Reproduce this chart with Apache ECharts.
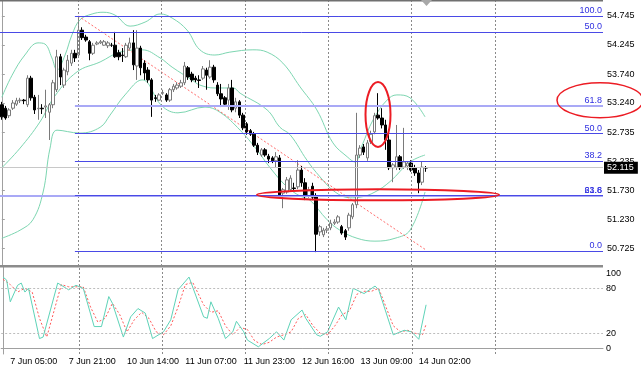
<!DOCTYPE html>
<html><head><meta charset="utf-8">
<script src="https://cdn.jsdelivr.net/npm/echarts@6/dist/echarts.min.js"></script>
<style>html,body{margin:0;padding:0;background:#fff}#c{width:641px;height:369px}</style>
</head><body><div id="c"></div>
<script>
// ---------- data ----------
const timeLabels = ['7 Jun 05:00','7 Jun 21:00','10 Jun 14:00','11 Jun 07:00','11 Jun 23:00','12 Jun 16:00','13 Jun 09:00','14 Jun 02:00'];
const timeLabelBars = [2,18,34,50,66,82,98,114];
const slotCount = 165;
// [open, close, low, high]
const candles = [
[53.21,53.00,52.95,53.26],[53.15,52.98,52.95,53.19],[53.02,53.12,52.98,53.15],[53.15,53.24,53.12,53.29],[53.22,53.28,53.19,53.33],
[53.28,53.29,53.24,53.33],[53.29,53.28,53.22,53.31],[53.21,53.67,53.17,53.72],[53.67,53.33,53.28,53.71],[53.34,53.12,53.05,53.38],
[53.14,53.15,52.95,53.38],[53.15,53.14,53.05,53.22],[53.17,53.19,52.98,53.47],[53.08,53.21,52.60,53.24],[53.21,53.59,53.15,53.64],
[53.47,54.04,53.43,54.16],[54.04,53.69,53.55,54.09],[53.55,53.81,53.50,53.85],[53.78,53.98,53.72,54.07],[53.93,54.10,53.88,54.16],
[54.10,54.02,53.95,54.16],[54.07,54.50,54.02,54.745],[54.50,54.37,54.33,54.55],[54.38,54.33,54.30,54.42],[54.30,54.10,53.98,54.33],
[54.10,54.24,54.07,54.28],[54.26,54.28,54.24,54.31],[54.28,54.30,54.26,54.33],[54.24,54.30,54.23,54.33],[54.23,54.28,54.19,54.31],
[54.24,54.24,54.21,54.28],[54.24,54.04,54.02,54.47],[54.11,54.04,53.98,54.16],[54.07,54.06,53.95,54.19],[54.04,54.24,54.02,54.28],
[54.19,54.28,54.16,54.37],[54.28,53.90,53.81,54.50],[53.88,54.19,53.64,54.50],[54.19,53.85,53.72,54.23],[53.93,53.76,53.64,53.98],
[53.81,53.64,53.59,53.86],[53.64,53.29,53.00,53.67],[53.33,53.32,53.26,53.38],[53.29,53.38,53.28,53.41],[53.41,53.42,53.38,53.47],
[53.38,53.29,53.26,53.41],[53.29,53.47,53.26,53.50],[53.47,53.53,53.43,53.57],[53.50,53.55,53.47,53.60],[53.53,53.59,53.50,53.64],
[53.59,53.88,53.55,53.95],[53.85,53.69,53.64,53.88],[53.74,53.64,53.60,53.78],[53.67,53.64,53.60,53.71],[53.64,53.63,53.50,53.72],
[53.67,53.83,53.64,53.88],[53.81,53.72,53.47,53.85],[53.69,53.86,53.66,53.98],[53.86,53.64,53.59,53.90],[53.55,53.40,53.36,53.60],
[53.40,53.31,53.17,53.57],[53.33,53.22,53.19,53.36],[53.29,53.50,53.12,53.57],[53.50,53.12,53.08,53.64],[53.15,53.26,53.08,53.33],
[53.26,53.03,52.98,53.29],[53.03,52.81,52.77,53.07],[52.88,52.74,52.69,52.91],[52.76,52.70,52.67,52.79],[52.70,52.51,52.48,52.74],
[52.51,52.39,52.34,52.55],[52.34,52.43,52.31,52.46],[52.43,52.34,52.31,52.46],[52.32,52.27,52.20,52.36],[52.29,52.24,52.20,52.32],
[52.24,52.31,52.12,52.39],[52.29,51.65,51.61,52.34],[51.68,51.74,51.42,51.77],[51.70,51.91,51.67,51.96],[51.74,51.94,51.70,51.99],
[51.77,51.76,51.72,51.86],[51.79,52.08,51.75,52.25],[52.08,51.86,51.79,52.15],[51.86,51.63,51.56,51.94],[51.63,51.74,51.60,51.79],
[51.80,51.61,51.56,51.86],[51.63,50.97,50.66,51.68],[51.01,51.10,50.94,51.13],[50.96,51.04,50.92,51.08],[51.04,51.06,50.99,51.11],
[51.08,51.16,51.04,51.22],[51.16,51.18,51.13,51.23],[51.18,51.27,51.15,51.30],[51.10,50.99,50.96,51.13],[51.03,50.92,50.87,51.06],
[51.08,51.30,51.03,51.34],[51.27,51.48,51.23,51.51],[51.48,52.34,51.42,53.07],[52.34,52.46,52.29,52.51],[52.48,52.39,52.34,52.53],
[52.29,52.55,52.24,52.60],[52.57,52.70,52.53,52.76],[52.74,53.02,52.70,53.07],[53.03,52.98,52.95,53.41],[52.98,52.86,52.80,53.15],
[52.86,52.60,52.43,52.95],[52.60,52.12,52.08,52.77],[52.12,52.17,51.87,52.20],[52.13,52.31,52.08,52.86],[52.31,52.12,52.08,52.34],
[52.13,52.22,52.10,52.81],[52.15,52.20,52.08,52.22],[52.20,52.08,52.05,52.25],[52.12,52.03,51.98,52.17],[52.03,51.86,51.68,52.08],
[51.87,52.13,51.82,52.22],[52.12,52.115,52.05,52.15]
];
// Bollinger bands, [bar, price]
const bbUpper = [[0,53.34],[2.8,53.72],[6.3,54.07],[9.9,54.28],[11.8,54.26],[13.7,54.02],[15.1,53.81],[17.3,54.07],[19.2,54.42],[21.4,54.68],[24.7,54.78],[27.7,54.81],[31,54.76],[35.1,54.57],[39.2,54.64],[43.3,54.78],[46.6,54.71],[50.7,54.50],[54.2,54.16],[58.3,54.07],[62.4,54.12],[68.7,54.16],[72.6,54.12],[76.9,53.93],[81.6,53.52],[86.2,53.12],[90.6,52.55],[94.5,52.31],[96.6,52.22],[98.6,52.51],[101.6,52.95],[105.4,53.29],[108.1,53.38],[111.7,53.33],[115.8,53.00]];
const bbMiddle = [[0,52.12],[5,52.46],[10.4,52.91],[14.5,53.36],[20.6,53.78],[26.9,53.95],[32.3,54.12],[38.4,54.16],[43.3,54.02],[46.6,53.86],[52,53.64],[54.2,53.55],[58.3,53.50],[63.3,53.50],[65.2,53.41],[72.6,53.12],[76.1,52.82],[78.9,52.69],[83.5,52.25],[87.1,51.96],[91.2,51.70],[95.3,51.60],[98,51.61],[102.1,51.70],[106.2,51.88],[111.7,52.22],[115.8,52.34]];
const bbLower = [[0,50.90],[5,51.04],[8.5,51.22],[11.3,51.70],[13.2,52.46],[15.1,52.77],[21.4,52.72],[26.9,52.82],[29.6,53.03],[33.7,53.38],[38.4,53.64],[43.8,53.19],[48.2,53.07],[55.6,53.17],[59.7,53.08],[65.2,52.77],[69.8,52.43],[73.4,52.12],[78,51.79],[81.6,51.63],[84.3,51.56],[89,51.22],[92.5,51.04],[97.2,50.90],[102.1,50.85],[107.6,50.90],[111.7,51.04],[115.8,51.70]];
// Stochastic %K and signal, [bar, value]
const stochMain = [[0,95],[1,91],[2,62],[4,84],[5,87],[6,75],[7,80],[10,13],[11,15],[15,87],[18,78],[20,84],[22,80],[25,29],[27,29],[29,69],[30,60],[33,15],[35,42],[37,53],[39,47],[41,13],[44,22],[46,38],[48,78],[51,95],[55,42],[56,40],[57,62],[59,40],[61,13],[63,22],[64,36],[66,22],[67,11],[70,2],[73,13],[75,22],[77,11],[79,38],[82,51],[83,40],[86,18],[87,16],[89,22],[92,55],[94,38],[96,80],[99,73],[102,83],[103,78],[107,18],[110,24],[112,22],[114,12],[116,58]];
const stochSignal = [[0,92],[2,85],[4,75],[6,80],[8,75],[10,40],[12,15],[14,50],[16,85],[18,82],[20,82],[22,82],[24,55],[26,35],[28,40],[30,60],[32,45],[34,22],[36,38],[38,48],[40,40],[42,22],[44,18],[46,30],[48,55],[50,85],[52,88],[55,58],[57,48],[59,50],[61,30],[63,18],[65,28],[67,25],[69,10],[71,5],[73,8],[75,15],[77,18],[79,22],[81,40],[83,45],[85,30],[87,20],[89,18],[91,30],[93,45],[95,50],[97,72],[99,76],[101,76],[103,80],[105,55],[107,30],[109,22],[111,24],[113,20],[115,18],[116,32]];
const priceTicks = [54.745,54.245,53.740,53.240,52.735,52.235,51.730,51.230,50.725];
const stochTicks = [0,20,80,100];
const stochLevels = [20,80];
// Fibonacci levels [label, price]
const fibMain = [['100.0',54.745],['61.8',53.190],['50.0',52.710],['38.2',52.229],['23.6',51.636],['0.0',50.675]];
const fibSecond = [['50.0',54.469],['61.8',51.630]];
const trendLine = [[20.9,54.745],[116,50.70]];

// ---------- styles / layout ----------
const fibMainStart = 20, fibSecondStart = -0.5, rightEdge = 164.5;
const vGrid = [20.84,43.69,66.54,89.25,112.15,134.95];
const FONT = 'Liberation Sans, Arial, sans-serif';
const blue = '#4a4ae6', lightBlue = '#a9a9f6', bbColor = '#7dd6b1', red = '#ec1c24';

const cats = [];
for (let i = 0; i < slotCount; i++) {
  const k = timeLabelBars.indexOf(i);
  cats.push(k >= 0 ? timeLabels[k] : '');
}
const lastClose = candles[candles.length - 1][1];

function fibPairs(list, start, special) {
  return list.map(([lab, p]) => {
    const light = lab === '61.8';
    return [{
      coord: [start, p],
      lineStyle: { color: light ? lightBlue : blue, width: light ? 2 : 1, type: 'solid' },
      label: { show: true, position: 'insideEndTop', formatter: lab, color: '#2f2fe0', fontSize: 9, fontFamily: FONT, distance: 1 }
    }, { coord: [rightEdge, p] }];
  });
}

const chart = echarts.init(document.getElementById('c'), null, { renderer: 'canvas' });
chart.setOption({
  animation: false,
  backgroundColor: '#fff',
  textStyle: { fontFamily: FONT },
  grid: [
    { left: 0, top: 0, width: 603, height: 266 },
    { left: 0, top: 267, width: 603, height: 87 }
  ],
  xAxis: [
    { type: 'category', gridIndex: 0, data: cats, boundaryGap: true, axisLine: { show: false }, axisTick: { show: false }, axisLabel: { show: false }, splitLine: { show: false } },
    { type: 'category', gridIndex: 1, data: cats, boundaryGap: true,
      axisLine: { show: true, lineStyle: { color: '#a0a0a0' } }, axisTick: { show: false },
      axisLabel: { show: true, interval: 0, align: 'left', margin: 3, fontSize: 9, color: '#000', fontFamily: FONT }, splitLine: { show: false } },
    { type: 'value', gridIndex: 0, min: -0.5, max: rightEdge, show: false },
    { type: 'value', gridIndex: 1, min: -0.5, max: rightEdge, show: false }
  ],
  yAxis: [
    { type: 'value', gridIndex: 0, position: 'right', min: 50.420, max: 55.022, scale: true,
      axisLine: { show: true, lineStyle: { color: '#a0a0a0' } },
      axisTick: { show: true, length: 3, customValues: priceTicks, lineStyle: { color: '#a0a0a0' } },
      axisLabel: { show: true, customValues: priceTicks, formatter: v => v.toFixed(3), fontSize: 9, color: '#000', margin: 4, fontFamily: FONT },
      splitLine: { show: false } },
    { type: 'value', gridIndex: 1, position: 'right', min: -7.6, max: 108.4,
      axisLine: { show: true, lineStyle: { color: '#a0a0a0' } },
      axisTick: { show: false },
      axisLabel: { show: true, customValues: stochTicks, formatter: v => String(v), fontSize: 9, color: '#000', margin: 3, fontFamily: FONT },
      splitLine: { show: false } }
  ],
  series: [
    { type: 'line', name: 'bbU', xAxisIndex: 2, yAxisIndex: 0, data: bbUpper, smooth: 0.4, showSymbol: false, lineStyle: { color: bbColor, width: 1 }, z: 2 },
    { type: 'line', name: 'bbM', xAxisIndex: 2, yAxisIndex: 0, data: bbMiddle, smooth: 0.4, showSymbol: false, lineStyle: { color: bbColor, width: 1 }, z: 2 },
    { type: 'line', name: 'bbL', xAxisIndex: 2, yAxisIndex: 0, data: bbLower, smooth: 0.4, showSymbol: false, lineStyle: { color: bbColor, width: 1 }, z: 2 },
    { type: 'line', name: 'trend', xAxisIndex: 2, yAxisIndex: 0, data: trendLine, showSymbol: false,
      lineStyle: { color: '#ff6b6b', width: 1, type: [2, 2] }, z: 3,
      markLine: { silent: true, symbol: ['none', 'none'], animation: false,
        data: [
          ...vGrid.map(v => ({ xAxis: v, lineStyle: { color: '#8a8a8a', type: [2, 2], width: 1 }, label: { show: false } })),
          ...fibPairs(fibSecond, fibSecondStart),
          ...fibPairs(fibMain, fibMainStart)
        ] } },
    { type: 'candlestick', name: 'price', xAxisIndex: 0, yAxisIndex: 0, data: candles, barWidth: 3, z: 4,
      itemStyle: { color: '#ffffff', color0: '#000000', borderColor: '#7a7a7a', borderColor0: '#000000', borderWidth: 1 },
      markLine: { silent: true, symbol: ['none', 'none'],
        data: [{ yAxis: lastClose, lineStyle: { color: '#c8c8c8', width: 1, type: 'solid' },
          label: { show: true, position: 'end', distance: 1, formatter: lastClose.toFixed(3), color: '#fff', backgroundColor: '#000', padding: [2, 4, 1, 3], fontSize: 9, fontFamily: FONT } }] } },
    { type: 'line', name: 'stochK', xAxisIndex: 3, yAxisIndex: 1, data: stochMain, showSymbol: false, lineStyle: { color: '#5ed3b8', width: 1 }, z: 3,
      markLine: { silent: true, symbol: ['none', 'none'],
        data: [
          ...stochLevels.map(v => ({ yAxis: v, lineStyle: { color: '#bdbdbd', type: [2, 2], width: 1 }, label: { show: false } })),
          ...vGrid.map(v => ({ xAxis: v, lineStyle: { color: '#8a8a8a', type: [2, 2], width: 1 }, label: { show: false } }))
        ] } },
    { type: 'line', name: 'stochD', xAxisIndex: 3, yAxisIndex: 1, data: stochSignal, showSymbol: false, lineStyle: { color: '#ff5a5a', width: 1, type: [2, 2] }, z: 2 }
  ],
  graphic: [
    { type: 'rect', shape: { x: 0, y: 0, width: 603, height: 1.5 }, style: { fill: '#707070' }, z: 10 },
    { type: 'rect', shape: { x: 0, y: 265, width: 603, height: 2.5 }, style: { fill: '#8c8c8c' }, z: 10 },
    { type: 'polygon', shape: { points: [[421, 0], [432, 0], [426.5, 6]] }, style: { fill: '#a8a8a8' }, z: 10 },
    { type: 'ellipse', shape: { cx: 378, cy: 114.5, rx: 12.5, ry: 32.5 }, style: { fill: 'none', stroke: red, lineWidth: 2 }, z: 20 },
    { type: 'ellipse', shape: { cx: 378, cy: 194.8, rx: 121, ry: 5.5 }, style: { fill: 'none', stroke: red, lineWidth: 2 }, z: 20 },
    { type: 'ellipse', shape: { cx: 600, cy: 100.3, rx: 43, ry: 17.5 }, style: { fill: 'none', stroke: red, lineWidth: 1.5 }, z: 20 }
  ]
});
</script></body></html>
